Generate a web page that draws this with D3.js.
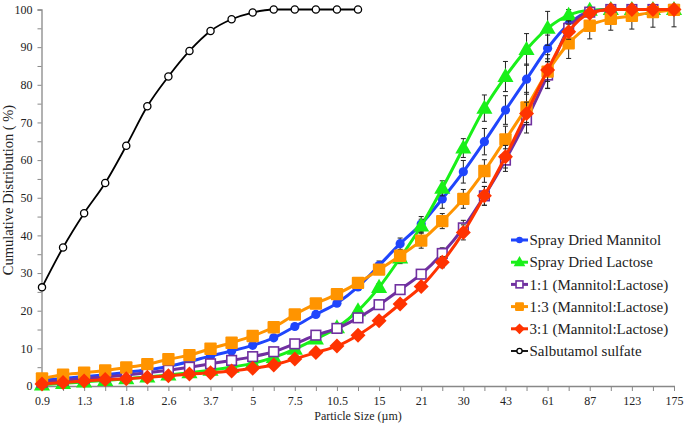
<!DOCTYPE html>
<html><head><meta charset="utf-8">
<script src="https://cdn.jsdelivr.net/npm/d3@7"></script>
<style>
html,body{margin:0;padding:0;background:#fff;}
svg{display:block;}
svg text{font-family:"Liberation Serif","DejaVu Serif","Times New Roman",serif !important;}
</style></head>
<body><svg id="c" width="685" height="424"></svg>
<script>
const sizes = ["0.9","1.1","1.3","1.5","1.8","2.2","2.6","3.1","3.7","4.3","5","6","7.5","9","10.5","12.5","15","18","21","25","30","36","43","51","61","73","87","103","123","147","175"];
const tickLabels = ["0.9","1.3","1.8","2.6","3.7","5","7.5","10.5","15","21","30","43","61","87","123","175"];
const yTicks = [0,10,20,30,40,50,60,70,80,90,100];

const sdMannitol = [1.5,2.0,2.5,3.0,3.6,4.3,5.2,6.5,8.0,9.3,10.8,12.8,15.8,19.0,22.0,26.3,32.0,37.8,43.0,49.7,56.9,64.9,73.3,81.5,89.7,96.1,99.5,100,100,100,100];
const sdMannitolErr = [0,0,0,0,0,0,0,0,0,0,0,0,0,0,0.5,0.8,1.2,1.5,2,2.5,3,3.5,3.8,4,3.5,2,0.5,0,0,0,0];
const sdLactose = [0.3,0.7,1.1,1.5,1.9,2.4,2.9,3.5,4.2,5.0,6.0,7.6,9.8,12.5,15.5,20.0,26.2,34.0,42.5,52.5,63.2,73.8,82.2,89.4,95.0,98.5,99.8,100,100,100,100];
const sdLactoseErr = [0,0,0,0,0,0,0,0,0,0,0,0,0,0,0.3,0.5,1,1.5,1.8,2,2.5,3.5,4,4.2,4.5,1.5,0.5,0,0,0,0];
const ml11 = [1.0,1.5,2.0,2.4,2.9,3.5,4.2,5.0,5.9,6.8,7.8,9.1,11.2,13.5,15.3,18.1,21.6,25.6,29.7,35.2,42.0,50.5,60.0,70.7,82.6,95.0,99.3,100,100,100,100];
const ml11Err = [0,0,0,0,0,0,0,0,0,0,0,0,0,0,0,0.5,0.8,1,1.2,1.5,2,2.5,3,3.5,3.5,2,1,0.5,0.5,0.5,0.5];
const ml13 = [2.0,3.0,3.5,4.1,4.9,5.8,7.1,8.2,9.9,11.5,13.3,15.6,19.0,21.9,24.4,27.4,30.9,34.6,38.6,43.8,49.7,57.1,65.5,74.0,83.5,91.0,95.7,97.5,98.3,99.3,99.9];
const ml13Err = [0,0,0,0,0,0,0,0,0,0,0,0,0,0.5,0.8,1,1.2,1.5,2,2,2.5,3,3.5,4,4.5,4,3.5,3,3.5,4,4.5];
const ml31 = [0.5,0.9,1.3,1.7,1.9,2.3,2.7,3.2,3.5,4.0,4.7,5.6,7.2,8.9,10.6,13.5,17.3,21.8,26.4,32.9,40.8,50.5,60.9,72.4,83.9,94.1,99.0,100,100,100,100];
const ml31Err = [0,0,0,0,0,0,0,0,0,0,0,0,0,0,0,0,0.5,0.8,1,1.5,2,2.5,3,3,3,2,0.5,0,0,0,0];
const salbutamol = [26.2,36.8,45.9,53.9,63.8,74.3,82.2,89.0,94.3,97.4,99.2,100,100,100,100,100];

const seriesNames = ["Spray Dried Mannitol","Spray Dried Lactose","1:1 (Mannitol:Lactose)","1:3 (Mannitol:Lactose)","3:1 (Mannitol:Lactose)","Salbutamol sulfate"];

const series = [
  {name:seriesNames[0], vals:sdMannitol, err:sdMannitolErr, color:"#1f45fc", marker:"circle", lw:3},
  {name:seriesNames[1], vals:sdLactose, err:sdLactoseErr, color:"#19f019", marker:"triangle", lw:3},
  {name:seriesNames[2], vals:ml11, err:ml11Err, color:"#7030a0", marker:"opensquare", lw:3},
  {name:seriesNames[3], vals:ml13, err:ml13Err, color:"#ff9400", marker:"square", lw:3},
  {name:seriesNames[4], vals:ml31, err:ml31Err, color:"#ff3300", marker:"diamond", lw:3},
  {name:seriesNames[5], vals:salbutamol, err:null, color:"#000000", marker:"opencircle", lw:1.8}
];

const FONT = "Liberation Serif, DejaVu Serif, serif";
const svg = d3.select("#c");
const x = d3.scalePoint().domain(sizes).range([42, 674]);
const y = d3.scaleLinear().domain([0,100]).range([386, 9.5]);

// axes
const xAxis = d3.axisBottom(x).tickSize(5).tickFormat(d => tickLabels.includes(d) ? d : "");
const gx = svg.append("g").attr("transform","translate(0,386)").call(xAxis).attr("font-family",FONT);
gx.select(".domain").attr("stroke","#888").attr("stroke-width",1.3).attr("d","M41,0.5H675");
gx.selectAll(".tick line").attr("stroke","#888");
gx.selectAll(".tick text").attr("font-size",12).attr("font-family",FONT).attr("fill","#222").attr("dy","0.9em");

const yAxis = d3.axisLeft(y).tickValues(d3.range(0,101,5)).tickSize(4).tickFormat(d => yTicks.includes(d) ? d : "");
const gy = svg.append("g").attr("transform","translate(41.5,0)").call(yAxis).attr("font-family",FONT);
gy.select(".domain").attr("stroke","#888").attr("stroke-width",1.3);
gy.selectAll(".tick line").attr("stroke","#888");
gy.selectAll(".tick text").attr("font-size",12).attr("font-family",FONT).attr("fill","#222").attr("x",-9);

svg.append("text").attr("x",358).attr("y",420).attr("text-anchor","middle").attr("font-family",FONT)
  .attr("font-size",12).attr("fill","#222").text("Particle Size (µm)");
svg.append("text").attr("transform","translate(13,190) rotate(-90)").attr("text-anchor","middle").attr("font-family",FONT)
  .attr("font-size",14.5).attr("fill","#222").text("Cumulative Distribution ( %)");

function drawMarker(g, type, cx, cy, color, scale){
  scale = scale || 1;
  if(type==="circle"){
    g.append("circle").attr("cx",cx).attr("cy",cy).attr("r",4.6*scale).attr("fill",color);
  } else if(type==="opencircle"){
    g.append("circle").attr("cx",cx).attr("cy",cy).attr("r",3.6*scale).attr("fill","#fff").attr("stroke",color).attr("stroke-width",1.3);
  } else if(type==="triangle"){
    const s=8.5*scale;
    g.append("path").attr("d",`M${cx},${cy-s}L${cx+s*0.95},${cy+s*0.65}L${cx-s*0.95},${cy+s*0.65}Z`).attr("fill",color);
  } else if(type==="square"){
    const s=6.2*scale;
    g.append("rect").attr("x",cx-s).attr("y",cy-s).attr("width",2*s).attr("height",2*s).attr("fill",color).attr("rx",1);
  } else if(type==="opensquare"){
    const s=4.8*scale;
    g.append("rect").attr("x",cx-s).attr("y",cy-s).attr("width",2*s).attr("height",2*s).attr("fill","#fff").attr("stroke",color).attr("stroke-width",1.6);
  } else if(type==="diamond"){
    const s=7.5*scale;
    g.append("path").attr("d",`M${cx},${cy-s}L${cx+s},${cy}L${cx},${cy+s}L${cx-s},${cy}Z`).attr("fill",color);
  }
}

const line = d3.line().x((d,i)=>x(sizes[i])).y(d=>y(d)).curve(d3.curveMonotoneX);

series.forEach(s=>{
  const g = svg.append("g");
  g.append("path").datum(s.vals).attr("d",line).attr("fill","none").attr("stroke",s.color).attr("stroke-width",s.lw);
  if(s.err){
    s.vals.forEach((v,i)=>{
      const e = s.err[i]; if(!e) return;
      const cx = x(sizes[i]);
      const y1 = y(Math.min(v+e,100.5)), y2 = y(v-e);
      g.append("path").attr("d",`M${cx},${y1}V${y2}M${cx-2.5},${y1}H${cx+2.5}M${cx-2.5},${y2}H${cx+2.5}`)
        .attr("stroke","#222").attr("stroke-width",1).attr("fill","none");
    });
  }
  s.vals.forEach((v,i)=>drawMarker(g, s.marker, x(sizes[i]), y(v), s.color, 1));
});

// legend
const lg = svg.append("g").attr("font-family",FONT);
series.forEach((s,i)=>{
  const ly = 240 + i*22.2;
  lg.append("line").attr("x1",511).attr("x2",528).attr("y1",ly).attr("y2",ly).attr("stroke",s.color).attr("stroke-width",s.lw);
  drawMarker(lg, s.marker, 519.5, ly, s.color, 0.72);
  lg.append("text").attr("x",529.5).attr("y",ly).attr("dy","0.35em").attr("font-family",FONT).attr("font-size",15).attr("fill","#222").text(s.name);
});
</script></body></html>
